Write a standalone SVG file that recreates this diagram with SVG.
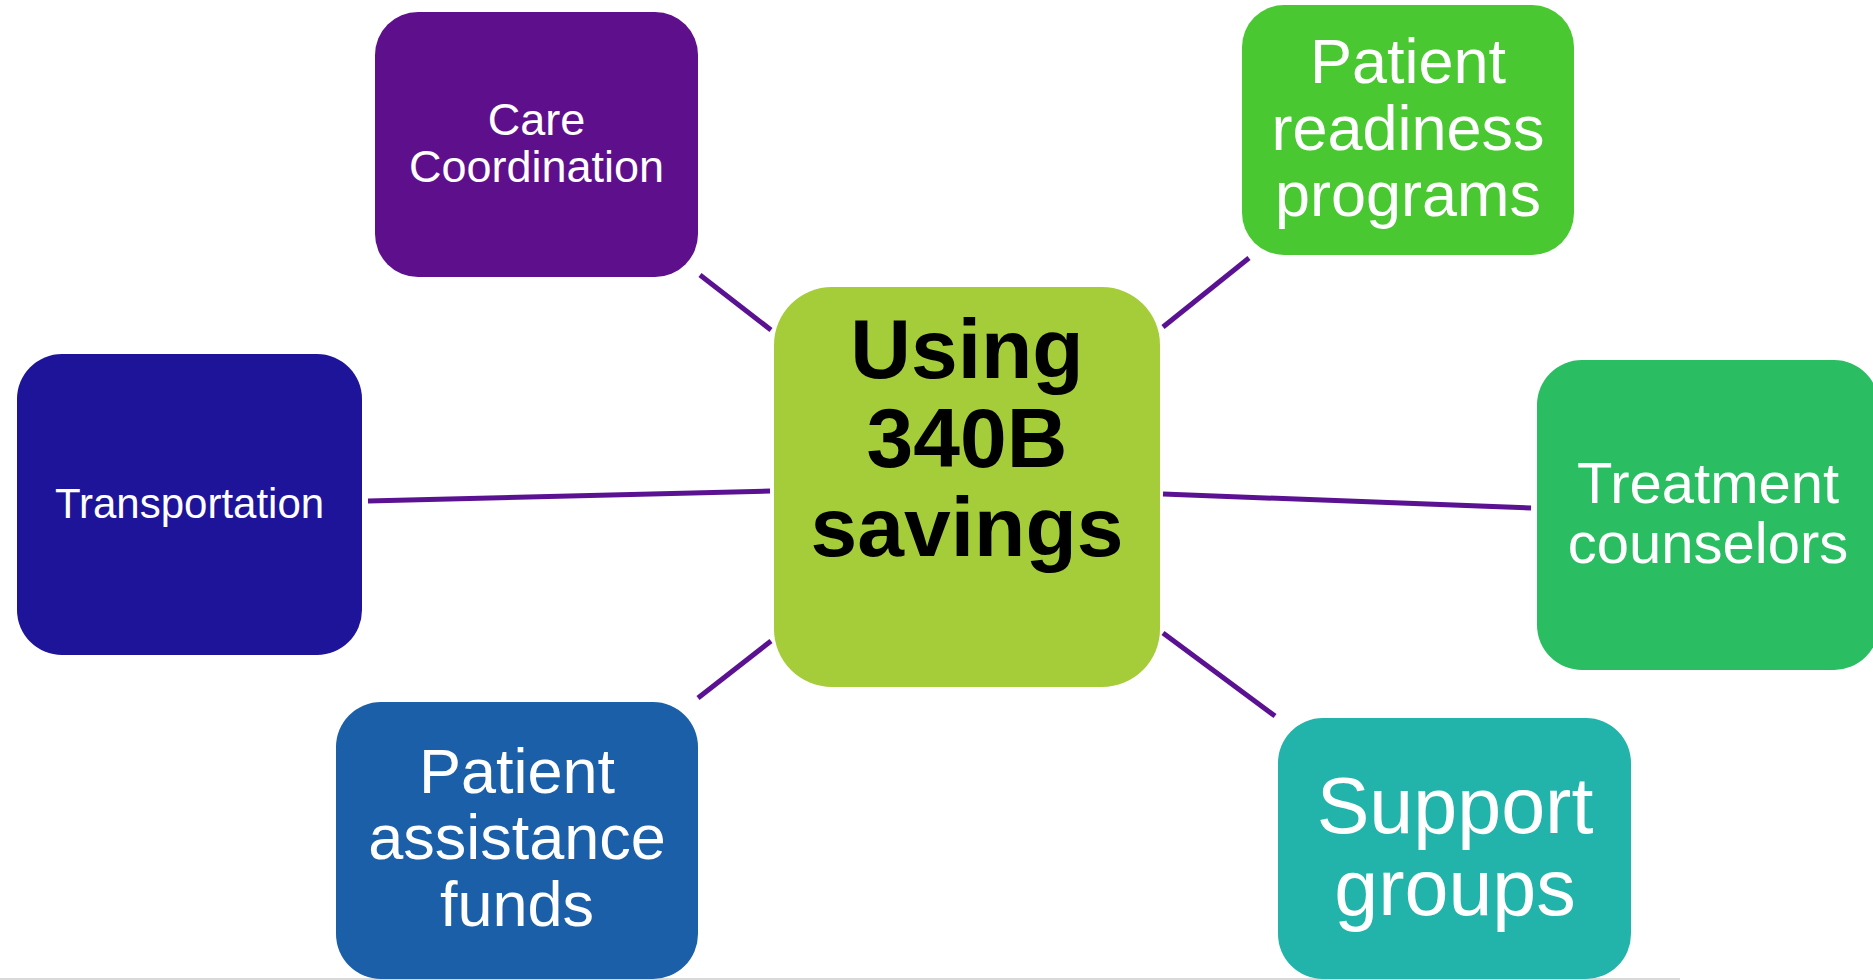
<svg xmlns="http://www.w3.org/2000/svg" width="1873" height="980" viewBox="0 0 1873 980">
<style>
.lbl{font-family:"Liberation Sans",Arial,sans-serif;fill:#ffffff;text-anchor:middle}
.ctr{font-family:"Liberation Sans",Arial,sans-serif;font-weight:bold;fill:#000000;text-anchor:middle}
.conn line{stroke:#5B1292;stroke-width:5;stroke-linecap:butt}
</style>
<rect x="0" y="0" width="1873" height="980" fill="#ffffff"/>
<rect x="0" y="978" width="1680" height="2" fill="#d9d9d9"/>
<g id="connectors" class="conn">
<line x1="700" y1="275" x2="771" y2="330"/>
<line x1="1249" y1="258" x2="1163" y2="327"/>
<line x1="368" y1="501" x2="770" y2="491"/>
<line x1="1163" y1="494" x2="1531" y2="508"/>
<line x1="698" y1="698" x2="771" y2="641"/>
<line x1="1163" y1="633" x2="1275" y2="716"/>
</g>
<g id="center">
<rect x="774" y="287" width="386" height="400" rx="58" fill="#A5CC39"/>
<text class="ctr" font-size="84"><tspan x="967" y="378">Using</tspan><tspan x="967" y="467">340B</tspan><tspan x="967" y="556">savings</tspan></text>
</g>
<g id="care-coordination">
<rect x="375" y="12" width="323" height="265" rx="43" fill="#5E108C"/>
<text class="lbl" font-size="45"><tspan x="536.5" y="135">Care</tspan><tspan x="536.5" y="182">Coordination</tspan></text>
</g>
<g id="patient-readiness">
<rect x="1242" y="5" width="332" height="250" rx="42" fill="#4AC832"/>
<text class="lbl" font-size="63"><tspan x="1408" y="83">Patient</tspan><tspan x="1408" y="150">readiness</tspan><tspan x="1408" y="216">programs</tspan></text>
</g>
<g id="transportation">
<rect x="17" y="354" width="345" height="301" rx="45" fill="#1E149A"/>
<text class="lbl" font-size="42"><tspan x="189.5" y="518">Transportation</tspan></text>
</g>
<g id="treatment-counselors">
<rect x="1537" y="360" width="342" height="310" rx="45" fill="#2ABD62"/>
<text class="lbl" font-size="58"><tspan x="1708" y="503">Treatment</tspan><tspan x="1708" y="563">counselors</tspan></text>
</g>
<g id="patient-assistance">
<rect x="336" y="702" width="362" height="277" rx="45" fill="#1B5FA8"/>
<text class="lbl" font-size="63"><tspan x="517" y="793">Patient</tspan><tspan x="517" y="859">assistance</tspan><tspan x="517" y="926">funds</tspan></text>
</g>
<g id="support-groups">
<rect x="1278" y="718" width="353" height="261" rx="45" fill="#22B4AA"/>
<text class="lbl" font-size="79"><tspan x="1455" y="833">Support</tspan><tspan x="1455" y="915">groups</tspan></text>
</g>
</svg>
